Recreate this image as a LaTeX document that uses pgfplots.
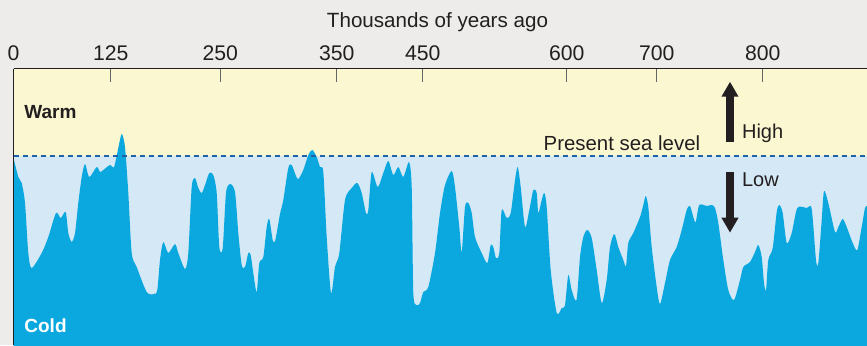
\documentclass[border=0pt]{standalone}
\usepackage{pgfplots}
\pgfplotsset{compat=1.18}
\usetikzlibrary{arrows.meta}
\usepackage{fontspec}
\setmainfont{Liberation Sans}
\definecolor{bg}{HTML}{EDECEA}
\definecolor{warmy}{HTML}{FBF8D1}
\definecolor{coldb}{HTML}{D5E8F6}
\definecolor{seab}{HTML}{0BA8DF}
\definecolor{dashb}{HTML}{1E62A8}
\definecolor{txt}{HTML}{231F20}
\definecolor{tickg}{HTML}{666666}
\begin{document}
\begin{tikzpicture}
\fill[bg] (0pt,0pt) rectangle (433.5pt,172.5pt);
\begin{axis}[
  at={(6.75pt,0pt)}, anchor=south west,
  scale only axis, width=426.75pt, height=138.25pt,
  xmin=13.5, xmax=867, ymin=-189, ymax=87.5,
  axis x line*=top, axis y line*=left,
  axis on top,
  axis line style={draw=txt, line width=0.75pt},
  ytick=\empty,
  xtick={13.5,110.7,220.3,336.7,422.7,566.7,656.7,762.7},
  xticklabels={0,125,250,350,450,600,700,800},
  xtick align=inside,
  major tick length=6.5pt,
  x tick style={draw=tickg, line width=0.5pt},
  xticklabel style={anchor=base, yshift=4.25pt, font=\fontsize{10.6}{12}\selectfont, text=txt},
  clip mode=individual,
]
\fill[warmy] (axis cs:13.5,0) rectangle (axis cs:867,87.5);
\fill[coldb] (axis cs:13.5,-189) rectangle (axis cs:867,0);
\addplot[fill=seab, draw=none, smooth, tension=0.45] coordinates {
(13.5,-2) (18.3,-20.7) (21.7,-27) (25,-47) (28.3,-97) (31.7,-112) (41.7,-97) (48.3,-81)
(56,-57) (60.7,-62) (65.7,-56) (68.3,-77) (71.7,-86) (75,-77) (78.3,-47) (81.7,-21)
(85,-8) (89.3,-21) (96.7,-11) (100,-16) (103.3,-14) (110,-9) (114,-11) (118.3,8)
(121.7,22) (125,9) (128.3,-37) (131.7,-97) (136.7,-111) (146.7,-136) (154,-138) (157.3,-134)
(160,-104) (163.3,-86) (168.3,-97) (175,-88) (178.3,-97) (185,-113) (188.3,-97) (191.7,-31)
(195,-22) (198.3,-32) (201.7,-37) (205,-29) (209.3,-17) (213.3,-19) (216.7,-37) (219.3,-91)
(222.7,-92) (226,-37) (230,-28) (235,-36) (238.3,-77) (241.7,-109) (245,-111) (248.3,-97)
(250.7,-99) (253.3,-117) (256.7,-136) (259.3,-107) (263.3,-101) (266.7,-71) (269.3,-63) (272.7,-84)
(275.3,-84) (280,-58) (283.3,-44) (288.3,-12) (291.7,-9) (297.7,-23) (303.3,-14) (308.3,1)
(312.3,6) (316.7,-1) (320,-11) (323.3,-16) (326.7,-81) (331,-137) (335,-111) (339.3,-97)
(345,-44) (351.7,-32) (357.3,-27) (361.7,-37) (366,-57) (368.3,-54) (371.7,-16) (377.7,-31)
(383.3,-17) (388.3,-5) (393.3,-19) (398.3,-11) (403.3,-21) (409,-6) (411.7,-31) (413.3,-137)
(416.7,-149) (420,-147) (423.3,-136) (428.3,-131) (435,-97) (440,-57) (445,-29) (451.7,-15)
(455,-31) (459.3,-71) (461.7,-96) (465,-51) (468.3,-47) (471.7,-57) (475,-81) (481.7,-97)
(487.3,-107) (490.7,-89) (493.3,-91) (496,-102) (499.3,-97) (501.7,-54) (506.7,-62) (510.7,-57)
(515,-24) (517.7,-11) (520.7,-31) (525,-71) (529.3,-54) (533.3,-34) (536.7,-37) (538.3,-57)
(541.7,-44) (544.3,-37) (546.7,-51) (550.7,-114) (556.7,-157) (561.7,-152) (565,-149) (568.3,-119)
(571.7,-134) (576.5,-144) (580,-101) (583.3,-81) (587.3,-74) (591.7,-82) (596.7,-114) (601.7,-147)
(606.7,-124) (610,-91) (614.3,-78) (618.3,-91) (623.3,-104) (626,-110) (628.3,-87) (633.3,-77)
(640,-61) (643.3,-49) (645.7,-40) (648.3,-51) (651.7,-91) (656.7,-131) (660,-148) (665,-127)
(670,-104) (676.7,-91) (681.7,-74) (686.7,-54) (690,-50) (693.3,-61) (695.7,-66) (699.3,-49)
(706.7,-50) (711.7,-49) (715,-52) (718.3,-67) (723.3,-104) (728.3,-134) (734,-144) (740,-124)
(743.3,-111) (750,-106) (755,-96) (758.3,-89) (761.7,-101) (764,-127) (766,-134) (768.3,-104)
(772.7,-92) (776.7,-56) (779.3,-49) (782.7,-57) (786.7,-87) (791.7,-77) (797.3,-52) (806.7,-52)
(811.7,-53) (816,-104) (818.3,-107) (821.7,-64) (824,-35) (828.3,-47) (835,-76) (838.3,-71)
(842.7,-63) (846.7,-71) (852.7,-87) (857.3,-94) (861.7,-71) (865,-52) (867,-50)
} -- (axis cs:867,-195) -- (axis cs:13.5,-195) -- cycle;
\draw[dashb, line width=1pt, dash pattern=on 2.75pt off 1.75pt] (axis cs:13.5,0) -- (axis cs:867,0);
\node[anchor=base west, inner sep=0, font=\bfseries\fontsize{9.5}{11}\selectfont, text=txt] at (axis cs:24,38) {Warm};
\node[anchor=base west, inner sep=0, font=\bfseries\fontsize{9.5}{11}\selectfont, text=white] at (axis cs:24,-176.7) {Cold};
\node[anchor=base west, inner sep=0, font=\fontsize{10.2}{12}\selectfont, text=txt] at (axis cs:543.3,6) {Present sea level};
\node[anchor=base west, inner sep=0, font=\fontsize{10}{12}\selectfont, text=txt] at (axis cs:741.7,17.7) {High};
\node[anchor=base west, inner sep=0, font=\fontsize{10}{12}\selectfont, text=txt] at (axis cs:741.7,-30.7) {Low};
\draw[txt, line width=4.2pt, -{Triangle[width=8pt,length=7.5pt]}] (axis cs:730,14.3) -- (axis cs:730,74.3);
\draw[txt, line width=4.2pt, -{Triangle[width=8pt,length=7.5pt]}] (axis cs:730,-15.7) -- (axis cs:730,-76.7);
\node[anchor=base, inner sep=0, font=\fontsize{10.3}{12}\selectfont, text=txt] at (axis cs:437.5,128.7) {Thousands of years ago};
\end{axis}
\pgfresetboundingbox
\useasboundingbox (0pt,0pt) rectangle (433.5pt,172.5pt);
\end{tikzpicture}
\end{document}
